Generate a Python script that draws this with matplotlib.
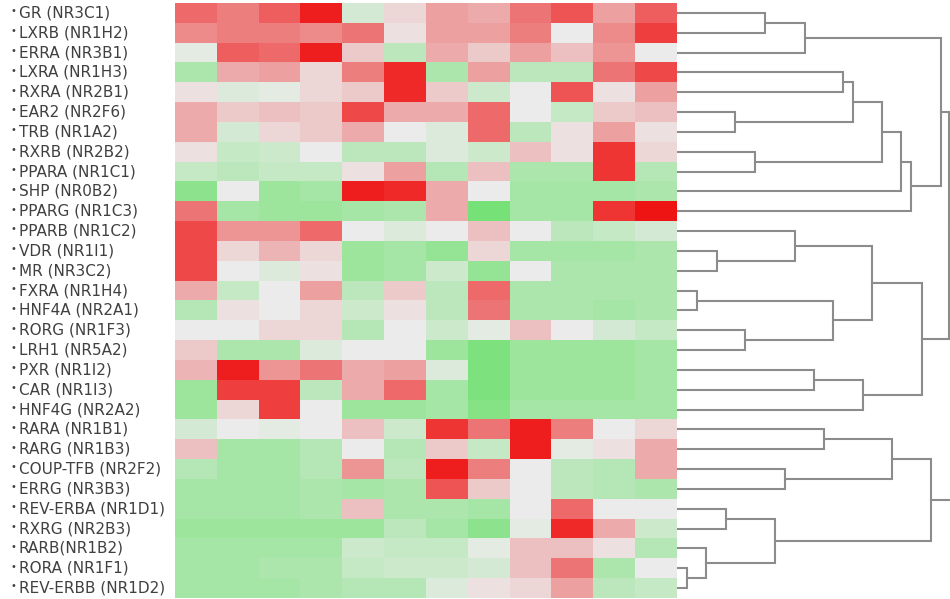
import matplotlib
matplotlib.use("Agg")
import matplotlib.pyplot as plt
import matplotlib.transforms as mtrans
from matplotlib.colors import LinearSegmentedColormap
import numpy as np

# nuclear receptors, top to bottom
receptors = ['GR (NR3C1)', 'LXRB (NR1H2)', 'ERRA (NR3B1)', 'LXRA (NR1H3)',
             'RXRA (NR2B1)', 'EAR2 (NR2F6)', 'TRB (NR1A2)', 'RXRB (NR2B2)',
             'PPARA (NR1C1)', 'SHP (NR0B2)', 'PPARG (NR1C3)', 'PPARB (NR1C2)',
             'VDR (NR1I1)', 'MR (NR3C2)', 'FXRA (NR1H4)', 'HNF4A (NR2A1)',
             'RORG (NR1F3)', 'LRH1 (NR5A2)', 'PXR (NR1I2)', 'CAR (NR1I3)',
             'HNF4G (NR2A2)', 'RARA (NR1B1)', 'RARG (NR1B3)', 'COUP-TFB (NR2F2)',
             'ERRG (NR3B3)', 'REV-ERBA (NR1D1)', 'RXRG (NR2B3)', 'RARB(NR1B2)',
             'RORA (NR1F1)', 'REV-ERBB (NR1D2)']

# expression (-1 green .. +1 red), 12 tissues per row
expr = [
    [0.60, 0.50, 0.65, 0.95, -0.15, 0.10, 0.35, 0.30, 0.55, 0.70, 0.35, 0.65],
    [0.45, 0.50, 0.50, 0.45, 0.55, 0.05, 0.35, 0.35, 0.50, 0.00, 0.45, 0.80],
    [-0.05, 0.65, 0.60, 0.95, 0.15, -0.30, 0.30, 0.15, 0.35, 0.20, 0.40, 0.00],
    [-0.40, 0.30, 0.35, 0.10, 0.50, 0.90, -0.40, 0.35, -0.30, -0.30, 0.55, 0.75],
    [0.05, -0.10, -0.05, 0.10, 0.15, 0.90, 0.15, -0.20, 0.00, 0.70, 0.05, 0.35],
    [0.30, 0.15, 0.20, 0.15, 0.75, 0.30, 0.30, 0.60, 0.00, -0.25, 0.15, 0.20],
    [0.30, -0.15, 0.10, 0.15, 0.30, 0.00, -0.10, 0.60, -0.30, 0.05, 0.35, 0.05],
    [0.05, -0.25, -0.20, 0.00, -0.30, -0.30, -0.10, -0.20, 0.20, 0.05, 0.85, 0.10],
    [-0.25, -0.30, -0.25, -0.25, 0.05, 0.35, -0.35, 0.20, -0.40, -0.40, 0.85, -0.35],
    [-0.60, 0.00, -0.50, -0.45, 0.95, 0.90, 0.30, 0.00, -0.45, -0.45, -0.45, -0.40],
    [0.55, -0.45, -0.50, -0.50, -0.45, -0.40, 0.30, -0.75, -0.45, -0.45, 0.85, 1.00],
    [0.75, 0.40, 0.40, 0.60, 0.00, -0.10, 0.00, 0.20, 0.00, -0.30, -0.25, -0.15],
    [0.75, 0.10, 0.25, 0.10, -0.50, -0.45, -0.55, 0.10, -0.45, -0.45, -0.45, -0.40],
    [0.75, 0.00, -0.10, 0.05, -0.50, -0.45, -0.20, -0.55, 0.00, -0.40, -0.40, -0.40],
    [0.30, -0.25, 0.00, 0.35, -0.30, 0.15, -0.30, 0.60, -0.40, -0.40, -0.40, -0.40],
    [-0.35, 0.05, 0.00, 0.10, -0.20, 0.05, -0.30, 0.55, -0.40, -0.40, -0.45, -0.40],
    [0.00, 0.00, 0.10, 0.10, -0.35, 0.00, -0.20, -0.05, 0.20, 0.00, -0.15, -0.25],
    [0.15, -0.40, -0.40, -0.10, 0.00, 0.00, -0.50, -0.70, -0.50, -0.50, -0.50, -0.45],
    [0.25, 0.95, 0.40, 0.55, 0.30, 0.35, -0.10, -0.70, -0.50, -0.50, -0.50, -0.45],
    [-0.50, 0.80, 0.80, -0.30, 0.30, 0.60, -0.45, -0.70, -0.50, -0.50, -0.50, -0.45],
    [-0.50, 0.10, 0.80, 0.00, -0.50, -0.50, -0.45, -0.65, -0.45, -0.45, -0.45, -0.45],
    [-0.15, 0.00, -0.05, 0.00, 0.20, -0.20, 0.85, 0.55, 0.95, 0.50, 0.00, 0.10],
    [0.20, -0.45, -0.45, -0.35, 0.00, -0.35, 0.15, -0.25, 0.95, -0.05, 0.05, 0.30],
    [-0.35, -0.45, -0.45, -0.35, 0.40, -0.30, 0.95, 0.50, 0.00, -0.30, -0.35, 0.30],
    [-0.45, -0.45, -0.45, -0.40, -0.45, -0.40, 0.70, 0.15, 0.00, -0.30, -0.35, -0.40],
    [-0.45, -0.45, -0.45, -0.40, 0.20, -0.40, -0.40, -0.45, 0.00, 0.60, 0.00, 0.00],
    [-0.50, -0.50, -0.50, -0.50, -0.50, -0.30, -0.45, -0.60, -0.05, 0.90, 0.30, -0.20],
    [-0.45, -0.45, -0.45, -0.45, -0.20, -0.25, -0.25, -0.05, 0.20, 0.20, 0.05, -0.35],
    [-0.45, -0.45, -0.40, -0.40, -0.25, -0.20, -0.20, -0.15, 0.20, 0.55, -0.40, 0.00],
    [-0.45, -0.45, -0.45, -0.40, -0.35, -0.35, -0.10, 0.05, 0.10, 0.35, -0.30, -0.25],
]

# row clustering, linkage style: (child a, child b, distance); new ids start at 30
merges = [
    (0, 1, 0.88), (30, 2, 1.28), (3, 4, 1.66), (5, 6, 0.58), (32, 33, 1.76),
    (7, 8, 0.78), (34, 35, 2.05), (36, 9, 2.24), (37, 10, 2.34), (31, 38, 2.64),
    (12, 13, 0.40), (11, 40, 1.18), (14, 15, 0.20), (16, 17, 0.68), (42, 43, 1.56),
    (41, 44, 1.95), (18, 19, 1.37), (46, 20, 1.86), (45, 47, 2.45), (39, 48, 2.72),
    (21, 22, 1.47), (23, 24, 1.08), (50, 51, 2.15), (25, 26, 0.49), (28, 29, 0.10),
    (27, 54, 0.29), (53, 55, 0.98), (52, 56, 2.54), (49, 57, 3.20),
]

W, H = 950, 599
top, bot = 3, 598
left, right = 175, 677
n = len(receptors)

fig = plt.figure(figsize=(W / 100, H / 100), dpi=100)
ax = fig.add_axes([left / W, 1 - bot / H, (right - left) / W, (bot - top) / H])
cmap = LinearSegmentedColormap.from_list(
    'gr', [(0.31, 0.87, 0.31), (0.925, 0.925, 0.925), (0.94, 0.08, 0.08)])
ax.imshow(np.array(expr), cmap=cmap, vmin=-1, vmax=1, aspect='auto',
          interpolation='nearest')
ax.set_xlim(-0.5, 11.5)
ax.set_ylim(n - 0.5, -0.5)
ax.axis('off')

tr = mtrans.blended_transform_factory(fig.transFigure, ax.transData)
for i, name in enumerate(receptors):
    ax.text(11 / W, i - 0.08, '\u2022', transform=tr, ha='left', va='center',
            fontsize=7, color='#444444', family='DejaVu Sans')
    ax.text(19 / W, i, name, transform=tr, ha='left', va='center',
            fontsize=11, color='#404040', family='DejaVu Sans')

# dendrogram
dax = fig.add_axes([right / W, 1 - bot / H, (W - right) / W, (bot - top) / H])
pos = {i: float(i) for i in range(n)}
hgt = {i: 0.0 for i in range(n)}
for k, (a, b, d) in enumerate(merges):
    dax.plot([hgt[a], d, d, hgt[b]], [pos[a], pos[a], pos[b], pos[b]],
             color='#8c8c8c', lw=1.5, solid_joinstyle='miter')
    pos[n + k] = (pos[a] + pos[b]) / 2
    hgt[n + k] = d
dax.set_xlim(0, 2.73)
dax.set_ylim(n - 0.5, -0.5)
dax.axis('off')

fig.savefig('out.png', dpi=100, facecolor='white')
